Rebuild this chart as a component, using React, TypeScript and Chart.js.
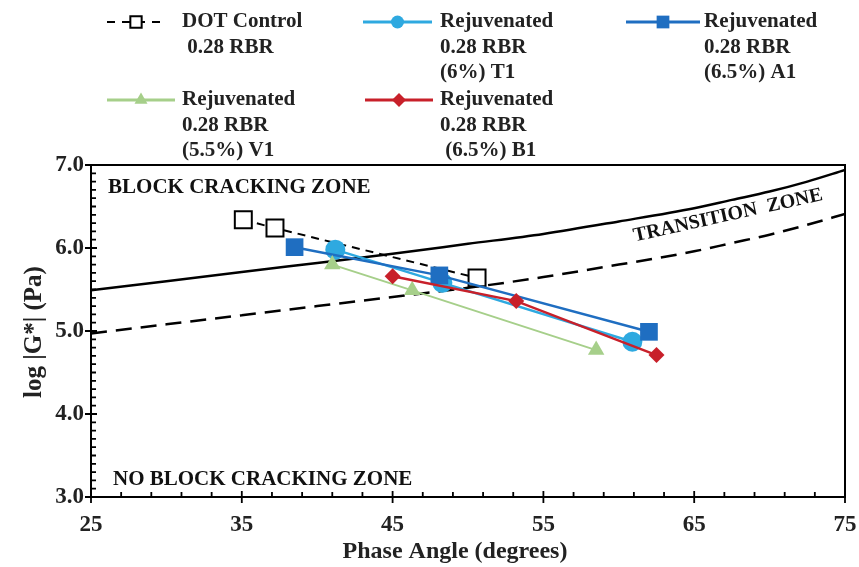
import React, { useEffect, useRef } from 'react';
import { Chart, registerables } from 'chart.js';

Chart.register(...registerables);

const FONT = '"Liberation Serif", "Times New Roman", Times, serif';

// ---- data ----
const dotX = [35.1, 37.2, 50.6];
const dotY = [6.34, 6.24, 5.64];
const t1X = [41.2, 48.3, 60.9];
const t1Y = [5.98, 5.58, 4.87];
const a1X = [38.5, 48.1, 62.0];
const a1Y = [6.01, 5.67, 4.99];
const v1X = [41.0, 46.3, 58.5];
const v1Y = [5.8, 5.49, 4.77];
const b1X = [45.0, 53.2, 62.5];
const b1Y = [5.66, 5.36, 4.71];

const boundaryX = [25, 30, 35, 40, 45, 50, 55, 60, 65, 67.5, 70, 72.5, 75];
const upperY = [5.49, 5.6, 5.71, 5.82, 5.93, 6.05, 6.17, 6.32, 6.48, 6.58, 6.68, 6.8, 6.94];
const lowerY = [4.97, 5.08, 5.19, 5.3, 5.41, 5.52, 5.65, 5.8, 5.96, 6.06, 6.16, 6.28, 6.41];

const xTicks = [25, 35, 45, 55, 65, 75];
const yTicks = [3, 4, 5, 6, 7];

const legendDot = ['DOT Control', ' 0.28 RBR'];
const legendT1 = ['Rejuvenated', '0.28 RBR', '(6%) T1'];
const legendA1 = ['Rejuvenated', '0.28 RBR', '(6.5%) A1'];
const legendV1 = ['Rejuvenated', '0.28 RBR', '(5.5%) V1'];
const legendB1 = ['Rejuvenated', '0.28 RBR', ' (6.5%) B1'];

const xTitle = 'Phase Angle (degrees)';
const yTitle = 'log |G*| (Pa)';
const zoneTop = 'BLOCK CRACKING ZONE';
const zoneBottom = 'NO BLOCK CRACKING ZONE';
const zoneMid = 'TRANSITION  ZONE';

const C_DOT = '#000000';
const C_T1 = '#2EA9E0';
const C_A1 = '#1F6EC1';
const C_V1 = '#A6CF8A';
const C_B1 = '#C8202A';

const pts = (xs: number[], ys: number[]) => xs.map((x, i) => ({ x, y: ys[i] }));

function drawMarker(ctx: CanvasRenderingContext2D, style: string, x: number, y: number, r: number, fill: string, stroke: string, lw: number) {
  ctx.save();
  ctx.beginPath();
  if (style === 'circle') {
    ctx.arc(x, y, r, 0, Math.PI * 2);
  } else if (style === 'rect') {
    const s = r * Math.SQRT1_2;
    ctx.rect(x - s, y - s, 2 * s, 2 * s);
  } else if (style === 'triangle') {
    ctx.moveTo(x, y - r);
    ctx.lineTo(x + r * Math.sin(Math.PI * 2 / 3), y + r * 0.5);
    ctx.lineTo(x - r * Math.sin(Math.PI * 2 / 3), y + r * 0.5);
    ctx.closePath();
  } else if (style === 'rectRot') {
    ctx.moveTo(x - r, y);
    ctx.lineTo(x, y - r);
    ctx.lineTo(x + r, y);
    ctx.lineTo(x, y + r);
    ctx.closePath();
  }
  ctx.fillStyle = fill;
  ctx.fill();
  if (lw > 0) {
    ctx.lineWidth = lw;
    ctx.strokeStyle = stroke;
    ctx.stroke();
  }
  ctx.restore();
}

const decorPlugin = {
  id: 'decor',
  afterDraw(chart: any) {
    const ctx: CanvasRenderingContext2D = chart.ctx;
    const { left, right, top, bottom } = chart.chartArea;
    const xs = chart.scales.x;
    const ys = chart.scales.y;
    ctx.save();

    // frame
    ctx.strokeStyle = '#000';
    ctx.lineWidth = 2;
    ctx.strokeRect(left, top, right - left, bottom - top);

    // x ticks
    ctx.lineWidth = 1.8;
    ctx.beginPath();
    for (let v = 25; v <= 75.001; v += 2) {
      const px = xs.getPixelForValue(v);
      ctx.moveTo(px, bottom - 5);
      ctx.lineTo(px, bottom);
    }
    for (let v = 25; v <= 75.001; v += 10) {
      const px = xs.getPixelForValue(v);
      ctx.moveTo(px, bottom - 6);
      ctx.lineTo(px, bottom + 6);
    }
    // y ticks
    for (let i = 0; i <= 40; i++) {
      const py = ys.getPixelForValue(3 + i * 0.1);
      ctx.moveTo(left, py);
      ctx.lineTo(left + 5, py);
    }
    for (let v = 3; v <= 7; v += 1) {
      const py = ys.getPixelForValue(v);
      ctx.moveTo(left - 6, py);
      ctx.lineTo(left + 6, py);
    }
    ctx.stroke();

    // zone annotations
    ctx.fillStyle = '#111';
    ctx.font = `bold 21px ${FONT}`;
    ctx.textBaseline = 'middle';
    ctx.textAlign = 'left';
    ctx.fillText(zoneTop, xs.getPixelForValue(26.13), ys.getPixelForValue(6.73));
    ctx.fillText(zoneBottom, xs.getPixelForValue(26.46), ys.getPixelForValue(3.205));
    ctx.save();
    ctx.translate(xs.getPixelForValue(67.24), ys.getPixelForValue(6.39));
    ctx.rotate((-12.5 * Math.PI) / 180);
    ctx.textAlign = 'center';
    ctx.font = `bold 20px ${FONT}`;
    ctx.fillText(zoneMid, 0, 0);
    ctx.restore();

    // axis titles
    ctx.font = `bold 24px ${FONT}`;
    ctx.textAlign = 'center';
    ctx.fillStyle = '#222';
    ctx.fillText(xTitle, 455, 552);
    ctx.save();
    ctx.translate(35, 332);
    ctx.rotate(-Math.PI / 2);
    ctx.font = `bold 25px ${FONT}`;
    ctx.fillText(yTitle, 0, 0);
    ctx.restore();

    // legend
    const items = [
      { lines: legendDot, x0: 107, x1: 165, y: 22, tx: 182, color: C_DOT, style: 'rect', dash: true },
      { lines: legendT1, x0: 363, x1: 432, y: 22, tx: 440, color: C_T1, style: 'circle', dash: false },
      { lines: legendA1, x0: 626, x1: 700, y: 22, tx: 704, color: C_A1, style: 'rect', dash: false },
      { lines: legendV1, x0: 107, x1: 175, y: 100, tx: 182, color: C_V1, style: 'triangle', dash: false },
      { lines: legendB1, x0: 365, x1: 433, y: 100, tx: 440, color: C_B1, style: 'rectRot', dash: false },
    ];
    ctx.font = `bold 21px ${FONT}`;
    ctx.textAlign = 'left';
    ctx.textBaseline = 'middle';
    for (const it of items) {
      ctx.save();
      ctx.strokeStyle = it.color;
      ctx.lineWidth = it.dash ? 2.2 : 3;
      if (it.dash) ctx.setLineDash([8, 7]);
      ctx.beginPath();
      ctx.moveTo(it.x0, it.y);
      ctx.lineTo(it.x1, it.y);
      ctx.stroke();
      ctx.restore();
      const mx = (it.x0 + it.x1) / 2;
      if (it.dash) {
        drawMarker(ctx, 'rect', mx, it.y, 8, '#fff', '#000', 2);
      } else {
        const r = it.style === 'rect' ? 9 : it.style === 'circle' ? 6.5 : it.style === 'triangle' ? 7.5 : 7;
        drawMarker(ctx, it.style, mx, it.y, r, it.color, it.color, 0);
      }
      ctx.fillStyle = '#222';
      it.lines.forEach((ln, i) => {
        ctx.fillText(ln, it.tx, it.y + i * 25.5);
      });
    }
    ctx.restore();
  },
};

export default function App() {
  const ref = useRef<HTMLCanvasElement | null>(null);

  useEffect(() => {
    if (!ref.current) return;
    Chart.defaults.font.family = FONT;
    const series = (label: string, xsArr: number[], ysArr: number[], color: string, style: string, radius: number, order: number, extra: any = {}) => ({
      label,
      data: pts(xsArr, ysArr),
      showLine: true,
      borderColor: color,
      backgroundColor: color,
      borderWidth: 2.5,
      pointStyle: style,
      pointRadius: radius,
      pointBorderWidth: 0,
      pointBackgroundColor: color,
      order,
      ...extra,
    });
    const chart = new Chart(ref.current, {
      type: 'scatter',
      data: {
        datasets: [
          series('DOT Control 0.28 RBR', dotX, dotY, C_DOT, 'rect', 12, 6, {
            borderDash: [8, 6],
            borderWidth: 2,
            pointBackgroundColor: '#ffffff',
            pointBorderColor: '#000000',
            pointBorderWidth: 2,
          }),
          series('Rejuvenated 0.28 RBR (6%) T1', t1X, t1Y, C_T1, 'circle', 10, 5),
          series('Rejuvenated 0.28 RBR (6.5%) A1', a1X, a1Y, C_A1, 'rect', 12.5, 4),
          series('Rejuvenated 0.28 RBR (5.5%) V1', v1X, v1Y, C_V1, 'triangle', 9.5, 3, { borderWidth: 2 }),
          series('Rejuvenated 0.28 RBR (6.5%) B1', b1X, b1Y, C_B1, 'rectRot', 8, 2),
          {
            label: 'upper',
            data: pts(boundaryX, upperY),
            showLine: true,
            borderColor: '#000',
            borderWidth: 2.5,
            pointRadius: 0,
            cubicInterpolationMode: 'monotone',
            order: 10,
          },
          {
            label: 'lower',
            data: pts(boundaryX, lowerY),
            showLine: true,
            borderColor: '#000',
            borderWidth: 2.5,
            borderDash: [16, 9],
            pointRadius: 0,
            cubicInterpolationMode: 'monotone',
            order: 11,
          },
        ],
      } as any,
      options: {
        responsive: false,
        animation: false,
        devicePixelRatio: 1,
        layout: { padding: { top: 165, right: 14, left: 0, bottom: 0 } },
        plugins: { legend: { display: false }, tooltip: { enabled: false }, title: { display: false } },
        scales: {
          x: {
            type: 'linear',
            min: 25,
            max: 75,
            afterBuildTicks: (s: any) => {
              s.ticks = xTicks.map((v) => ({ value: v }));
            },
            afterFit: (s: any) => {
              s.height = 70;
              s.paddingLeft = 0;
              s.paddingRight = 0;
            },
            grid: { display: false, drawTicks: false },
            border: { display: false },
            ticks: {
              color: '#222',
              font: { size: 23, weight: 'bold', family: FONT },
              padding: 14,
              maxRotation: 0,
              autoSkip: false,
            },
          },
          y: {
            type: 'linear',
            min: 3,
            max: 7,
            afterBuildTicks: (s: any) => {
              s.ticks = yTicks.map((v) => ({ value: v }));
            },
            afterFit: (s: any) => {
              s.width = 91;
              s.paddingTop = 0;
              s.paddingBottom = 0;
            },
            grid: { display: false, drawTicks: false },
            border: { display: false },
            ticks: {
              color: '#222',
              font: { size: 23, weight: 'bold', family: FONT },
              padding: 7,
              callback: (v: any) => Number(v).toFixed(1),
            },
          },
        },
      } as any,
      plugins: [decorPlugin],
    });
    return () => chart.destroy();
  }, []);

  return (
    <div style={{ position: 'fixed', left: 0, top: 0, width: 859, height: 567, background: '#fff' }}>
      <canvas ref={ref} width={859} height={567} style={{ width: 859, height: 567, display: 'block' }} />
    </div>
  );
}
